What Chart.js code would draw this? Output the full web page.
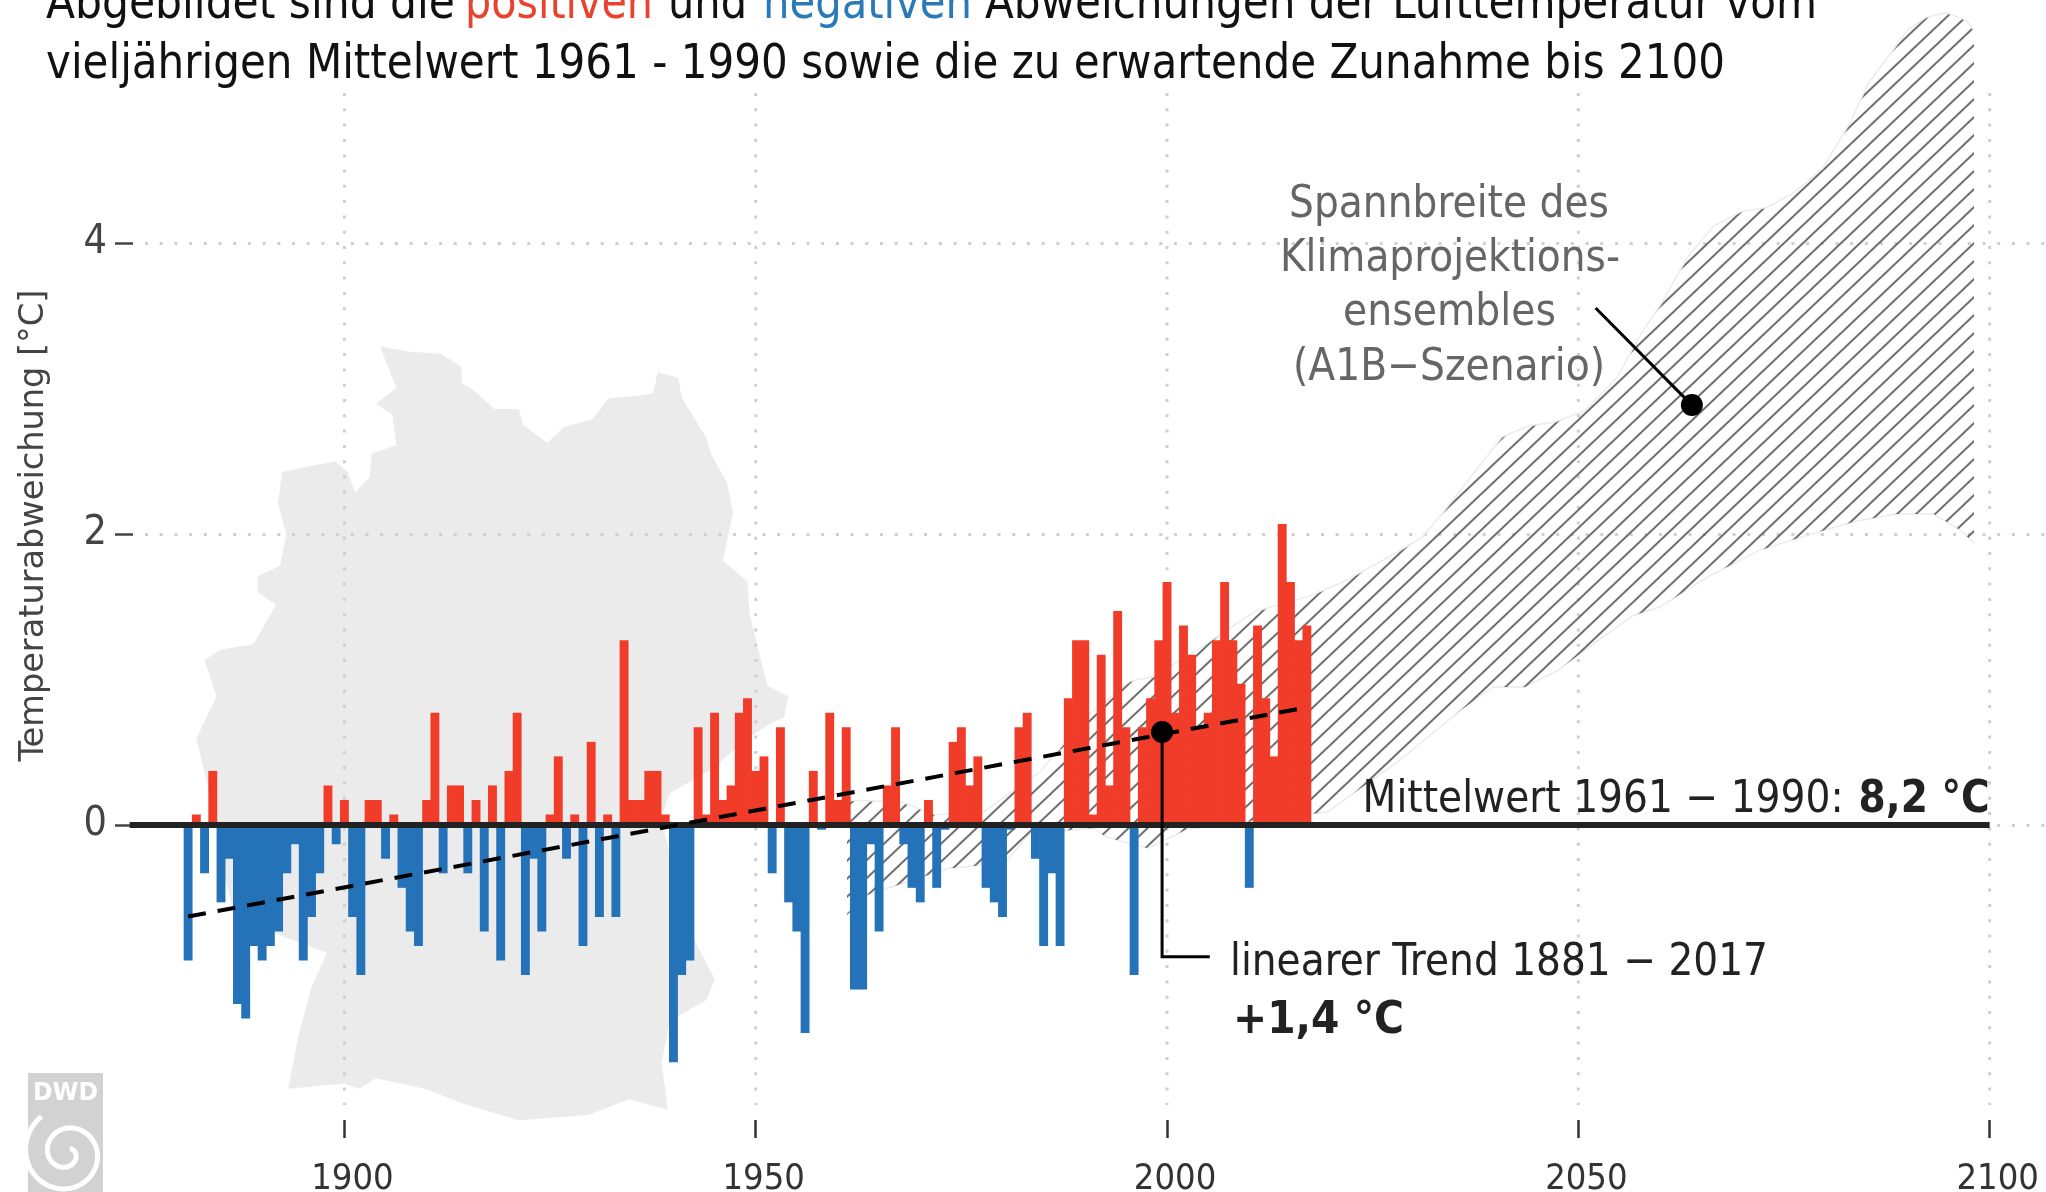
<!DOCTYPE html>
<html lang="de">
<head>
<meta charset="utf-8">
<title>Temperaturabweichung Deutschland</title>
<style>html,body{margin:0;padding:0;background:#fff}canvas{display:block}</style>
<script src="https://cdn.jsdelivr.net/npm/chart.js@4"></script>
</head>
<body>
<div style="width:2046px;height:1192px;position:relative"><canvas id="c"></canvas></div>
<script>
const years = [1881,1882,1883,1884,1885,1886,1887,1888,1889,1890,1891,1892,1893,1894,1895,1896,1897,1898,1899,1900,
1901,1902,1903,1904,1905,1906,1907,1908,1909,1910,1911,1912,1913,1914,1915,1916,1917,1918,1919,1920,
1921,1922,1923,1924,1925,1926,1927,1928,1929,1930,1931,1932,1933,1934,1935,1936,1937,1938,1939,1940,
1941,1942,1943,1944,1945,1946,1947,1948,1949,1950,1951,1952,1953,1954,1955,1956,1957,1958,1959,1960,
1961,1962,1963,1964,1965,1966,1967,1968,1969,1970,1971,1972,1973,1974,1975,1976,1977,1978,1979,1980,
1981,1982,1983,1984,1985,1986,1987,1988,1989,1990,1991,1992,1993,1994,1995,1996,1997,1998,1999,2000,
2001,2002,2003,2004,2005,2006,2007,2008,2009,2010,2011,2012,2013,2014,2015,2016,2017];
const anomalies = [-.93,.07,-.33,.37,-.53,-.23,-1.23,-1.33,-.83,-.93,-.83,-.73,-.33,-.13,-.93,-.63,-.33,.27,-.13,.17,
-.63,-1.03,.17,.17,-.23,.07,-.43,-.73,-.83,.17,.77,-.33,.27,.27,-.33,.17,-.73,.27,-.93,.37,
.77,-1.03,-.23,-.73,.07,.47,-.23,.07,-.83,.57,-.63,.07,-.63,1.27,.17,.17,.37,.37,.07,-1.63,
-1.03,-.93,.67,.07,.77,.17,.27,.77,.87,.37,.47,-.33,.67,-.53,-.73,-1.43,.37,-.03,.77,.17,
.67,-1.13,-1.13,-.13,-.73,.27,.67,-.13,-.43,-.53,.17,-.43,-.03,.57,.67,.27,.47,-.43,-.53,-.63,
-.03,.67,.77,-.23,-.83,-.33,-.83,.87,1.27,1.27,.07,1.17,.27,1.47,.67,-1.03,.67,.87,1.27,1.67,
.77,1.37,1.17,.67,.77,1.27,1.67,1.27,.97,-.43,1.37,.87,.47,2.07,1.67,1.27,1.37];

const upperYears = [1961.1,1967.7,1971.9,1977.7,1984.6,1990.3,1995.5,1998.3,2003.5,2010.7,2017,2020.9,2025.9,2031,2033.4,2038.8,2040.7,2044.1,2046.9,2050.8,2054.7,2057.5,2060.1,2063.3,2066.4,2069.7,2072.9,2076.2,2079.7,2083,2085.3,2087.3,2090,2092.3,2094.8,2097.1,2098.1];
const upperBound = [.17,.16,.07,.09,.37,.75,.99,1.02,1.2,1.47,1.57,1.66,1.81,1.98,2.14,2.53,2.67,2.75,2.77,2.85,3.08,3.37,3.59,3.91,4.12,4.22,4.25,4.35,4.52,4.83,5.11,5.26,5.47,5.56,5.59,5.54,5.47];
const lowerYears = [1961.1,1963.6,1973.4,1980.3,1983.3,1991.1,1992.5,1997.7,2002.4,2019.5,2027.9,2035.7,2039.6,2043.5,2047.4,2051.9,2056.6,2059.9,2065.8,2072,2077.6,2083.7,2088.7,2093.2,2096.4,2098.1];
const lowerBound = [-.62,-.48,-.3,-.26,-.06,-.02,-.08,-.16,-.03,.09,.43,.79,.95,.95,1.06,1.25,1.44,1.5,1.71,1.89,1.99,2.09,2.14,2.14,2.03,1.94];

const trendYears = [1881,2017];
const trendValues = [-.63,.81];
const meanLineYears = [1873.9,2100];
const meanLineValues = [0,0];
const trendCalloutYears = [1999.4,1999.4,2005.2];
const trendCalloutValues = [.64,-.906,-.906];
const rangeCalloutYears = [2063.8,2052.1];
const rangeCalloutValues = [2.89,3.558];
const xTickValues = [1900,1950,2000,2050,2100];
const yTickValues = [0,2,4];

const FONT = '"DejaVu Sans Condensed","DejaVu Sans",sans-serif';
const pts = (xs, ys) => xs.map((x, i) => ({x, y: ys[i]}));

function hatchPattern() {
  const t = document.createElement('canvas'); t.width = 19; t.height = 18;
  const g = t.getContext('2d');
  g.strokeStyle = '#585858'; g.lineWidth = 1.7;
  g.beginPath();
  g.moveTo(-19, 36); g.lineTo(38, -18);
  g.moveTo(-19, 18); g.lineTo(19, -18);
  g.moveTo(0, 36); g.lineTo(38, 0);
  g.stroke();
  const p = g.createPattern(t, 'repeat');
  p.setTransform(new DOMMatrix().translate(7.6, 0));
  return p;
}

function fit(ctx, text, x, base, width, font, color) {
  ctx.save();
  ctx.font = font; ctx.textAlign = 'left'; ctx.textBaseline = 'alphabetic'; ctx.fillStyle = color;
  const s = width / ctx.measureText(text).width;
  ctx.translate(x, base); ctx.scale(s, 1);
  ctx.fillText(text, 0, 0);
  ctx.restore();
}

const germany = [[490,50],[560,60],[640,65],[690,90],[690,120],[720,135],[770,170],[830,170],[840,200],[900,235],[940,205],[1010,190],[1050,150],[1120,145],[1160,140],[1170,100],[1220,110],[1230,150],[1290,225],[1300,255],[1340,310],[1355,370],[1330,460],[1390,500],[1395,560],[1420,640],[1440,700],[1490,720],[1480,760],[1450,770],[1400,795],[1300,860],[1200,905],[1180,950],[1215,1080],[1250,1170],[1310,1260],[1290,1300],[1200,1340],[1180,1420],[1195,1510],[1100,1490],[1000,1520],[830,1530],[700,1500],[600,1470],[480,1450],[440,1470],[400,1460],[265,1470],[290,1370],[320,1280],[360,1210],[240,1175],[130,1130],[100,1030],[90,960],[40,800],[90,720],[60,650],[100,630],[180,620],[235,545],[190,520],[190,490],[245,470],[260,410],[240,350],[250,290],[380,270],[410,290],[430,330],[465,300],[470,255],[530,240],[520,180],[480,160],[530,130]];

const decor = {
  id: 'decor',
  beforeDraw(chart) {
    const c = chart.ctx;
    c.save();
    c.fillStyle = '#fff'; c.fillRect(0, 0, chart.width, chart.height);
    c.fillStyle = '#ebebeb'; c.beginPath();
    germany.forEach(([zx, zy], i) => {
      const x = 180 + zx / 2.45, y = 320 + zy / 1.912;
      i ? c.lineTo(x, y) : c.moveTo(x, y);
    });
    c.closePath(); c.fill();
    c.fillStyle = '#d2d2d2'; c.fillRect(28, 1073, 75, 119);
    c.save(); c.beginPath(); c.rect(28, 1073, 75, 119); c.clip();
    c.strokeStyle = '#fff'; c.lineWidth = 5; c.beginPath();
    for (let t = 0; t <= 1; t += .01) {
      const a = -1.0 + t * 11.5, r = 5 + t * 40;
      const x = 67 + r * Math.cos(a), y = 1153 + r * Math.sin(a);
      t ? c.lineTo(x, y) : c.moveTo(x, y);
    }
    c.stroke(); c.restore();
    fit(c, 'DWD', 33, 1100, 65, 'bold 24px "DejaVu Sans"', '#fff');
    c.restore();
  },
  beforeDatasetsDraw(chart) {
    const c = chart.ctx, xs = chart.scales.x;
    c.save();
    c.strokeStyle = '#cfcfcf'; c.lineWidth = 3; c.setLineDash([3, 12.3]);
    xTickValues.forEach(v => {
      const x = xs.getPixelForValue(v);
      c.beginPath(); c.moveTo(x, 93); c.lineTo(x, 1105); c.stroke();
    });
    c.restore();
  },
  afterDraw(chart) {
    const c = chart.ctx;
    const T = '48px ' + FONT, K = '#111', R = '#e8432e', B = '#2b7ab8';
    fit(c, 'Abgebildet sind die', 46, 18, 409, T, K);
    fit(c, 'positiven', 465, 18, 188, T, R);
    fit(c, 'und', 668, 18, 79, T, K);
    fit(c, 'negativen', 763, 18, 209, T, B);
    fit(c, 'Abweichungen der Lufttemperatur vom', 985, 18, 832, T, K);
    fit(c, 'vieljährigen Mittelwert 1961 - 1990 sowie die zu erwartende Zunahme bis 2100', 46, 78, 1679, T, K);
    const A = '44px ' + FONT, G = '#666';
    fit(c, 'Spannbreite des', 1289, 217, 320, A, G);
    fit(c, 'Klimaprojektions-', 1280, 271, 340, A, G);
    fit(c, 'ensembles', 1343, 325, 213, A, G);
    fit(c, '(A1B−Szenario)', 1293, 380, 312, A, G);
    const D = '#222';
    fit(c, 'Mittelwert 1961 − 1990:', 1362.6, 811.7, 481, A, D);
    fit(c, '8,2 °C', 1858.6, 811.7, 131, 'bold 44px ' + FONT, D);
    fit(c, 'linearer Trend 1881 − 2017', 1230, 975, 538, A, D);
    fit(c, '+1,4 °C', 1233, 1033, 171, 'bold 44px ' + FONT, D);
    c.save();
    c.translate(43, 761.6); c.rotate(-Math.PI / 2);
    fit(c, 'Temperaturabweichung [°C]', 0, 0, 472, '34px ' + FONT, '#444');
    c.restore();
  }
};

new Chart(document.getElementById('c'), {
  data: {
    datasets: [
      {type: 'line', label: 'Oberer Rand', data: pts(upperYears, upperBound), order: 6, fill: {target: 1}, backgroundColor: hatchPattern(), borderColor: '#ececec', borderWidth: 1.5, pointRadius: 0, clip: false},
      {type: 'line', label: 'Unterer Rand', data: pts(lowerYears, lowerBound), order: 6, fill: false, borderColor: '#ececec', borderWidth: 1.5, pointRadius: 0, clip: false},
      {type: 'bar', label: 'Abweichung', data: pts(years, anomalies), order: 4, barPercentage: 1, categoryPercentage: 1, borderWidth: 0,
        backgroundColor: ctx => ctx.raw.y >= 0 ? '#f03c28' : '#2472b8'},
      {type: 'line', label: 'Mittelwert', data: pts(meanLineYears, meanLineValues), order: 3, borderColor: '#222', borderWidth: 6, pointRadius: 0, clip: false},
      {type: 'line', label: 'Trend', data: pts(trendYears, trendValues), order: 2, borderColor: '#000', borderWidth: 4, borderDash: [18, 12], pointRadius: 0, clip: false},
      {type: 'line', label: 'Trend-Hinweis', data: pts(trendCalloutYears, trendCalloutValues), order: 1, borderColor: '#000', borderWidth: 3, pointBackgroundColor: '#000', pointBorderWidth: 0, pointRadius: [11, 0, 0], clip: false},
      {type: 'line', label: 'Spannbreite-Hinweis', data: pts(rangeCalloutYears, rangeCalloutValues), order: 1, borderColor: '#000', borderWidth: 3, pointBackgroundColor: '#000', pointBorderWidth: 0, pointRadius: [11, 0], clip: false}
    ]
  },
  plugins: [decor],
  options: {
    responsive: true, maintainAspectRatio: false, animation: false,
    layout: {padding: 0, autoPadding: false},
    plugins: {legend: {display: false}, tooltip: {enabled: false}, title: {display: false}},
    scales: {
      x: {
        type: 'linear', min: 1875.76, max: 2106.85, offset: false,
        afterBuildTicks: s => { s.ticks = xTickValues.map(value => ({value})); },
        afterFit: s => { s.height = 87; s.paddingLeft = 0; s.paddingRight = 0; },
        border: {display: false},
        grid: {offset: false, drawOnChartArea: false, drawTicks: true, tickLength: 33, tickColor: '#333', tickWidth: 2.5, tickBorderDash: [0, 15, 18, 100]},
        ticks: {font: {family: FONT, size: 36}, color: '#333', padding: 20, labelOffset: 8, maxRotation: 0, autoSkip: false, callback: v => String(v)}
      },
      y: {
        type: 'linear', min: -1.927, max: 5.678,
        afterBuildTicks: s => { s.ticks = yTickValues.map(value => ({value})); },
        afterFit: s => { s.width = 145; s.paddingTop = 0; s.paddingBottom = 0; },
        border: {display: false, dash: [3, 11.7]},
        grid: {color: '#cfcfcf', lineWidth: 3, drawTicks: true, tickLength: 30, tickColor: '#444', tickWidth: 2.5, tickBorderDash: [18, 100]},
        ticks: {font: {family: FONT, size: 41}, color: '#444', padding: 8, labelOffset: -1, autoSkip: false, callback: v => String(v)}
      }
    }
  }
});
</script>
</body>
</html>
